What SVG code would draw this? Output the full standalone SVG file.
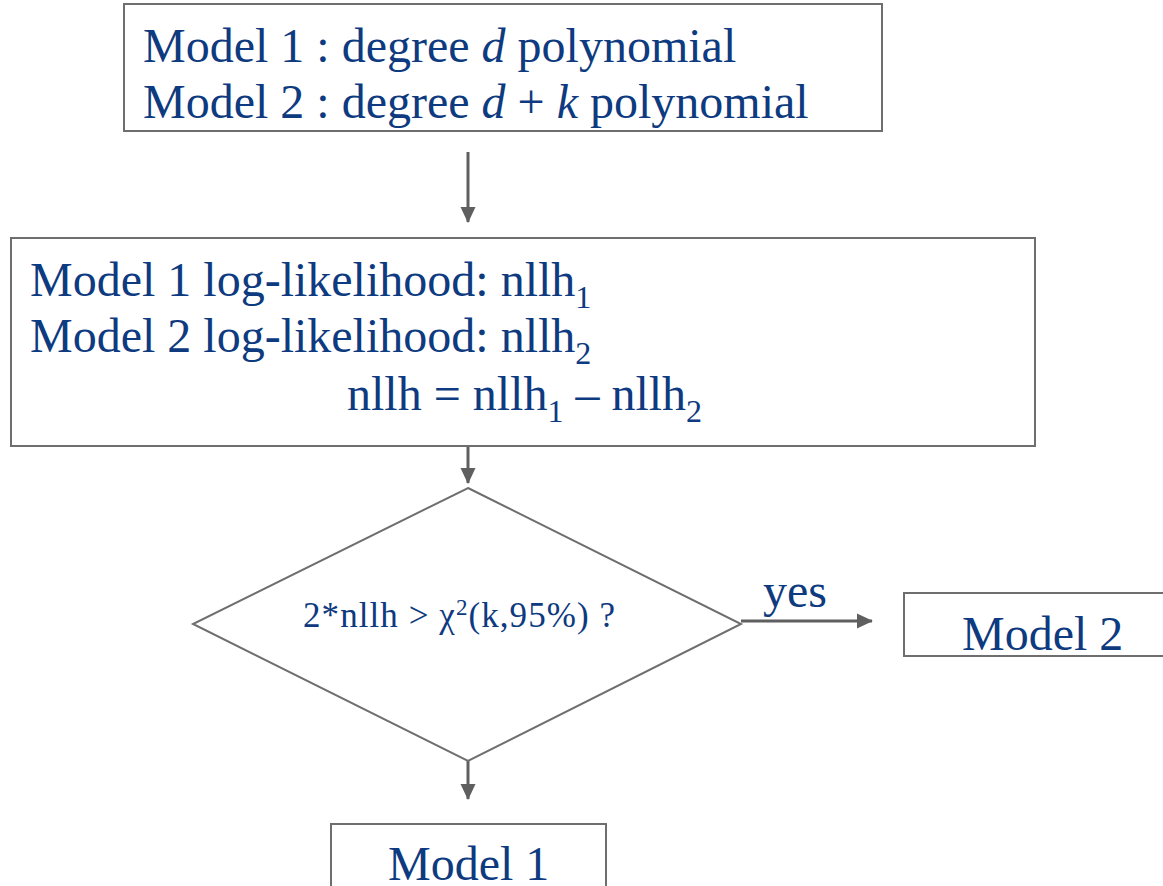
<svg xmlns="http://www.w3.org/2000/svg" width="1163" height="886" viewBox="0 0 1163 886">
<style>
.box{fill:#fff;stroke:#6e6e6e;stroke-width:2}
.t{font-family:"Liberation Serif","Times New Roman",serif;fill:#0e3a80;font-size:48px}
.sub{font-size:32px}
.conn{stroke:#5f5f5f;stroke-width:3;fill:none}
</style>
<defs>
<marker id="ah" markerWidth="6" markerHeight="6" refX="5" refY="3" orient="auto" markerUnits="strokeWidth">
<path d="M0,0.5 L5.3,3 L0,5.5 Z" fill="#5f5f5f"/>
</marker>
</defs>
<rect width="1163" height="886" fill="#fff"/>
<g id="connectors">
<line class="conn" x1="468" y1="152" x2="468" y2="222" marker-end="url(#ah)"/>
<line class="conn" x1="468" y1="446" x2="468" y2="483" marker-end="url(#ah)"/>
<line class="conn" x1="741" y1="621" x2="872" y2="621" marker-end="url(#ah)"/>
<line class="conn" x1="468" y1="761" x2="468" y2="799" marker-end="url(#ah)"/>
<text class="t" x="763" y="607">yes</text>
</g>
<g id="models">
<rect class="box" x="124" y="4" width="758" height="127"/>
<text class="t" x="143" y="62">Model 1 : degree <tspan font-style="italic">d</tspan> polynomial</text>
<text class="t" x="143" y="118">Model 2 : degree <tspan font-style="italic">d</tspan> + <tspan font-style="italic">k</tspan> polynomial</text>
</g>
<g id="loglik">
<rect class="box" x="11" y="238" width="1024" height="208"/>
<text class="t" x="30" y="296">Model 1 log-likelihood: nllh<tspan class="sub" dy="12">1</tspan></text>
<text class="t" x="30" y="352">Model 2 log-likelihood: nllh<tspan class="sub" dy="12">2</tspan></text>
<text class="t" x="347" y="410">nllh = nllh<tspan class="sub" dy="12">1</tspan><tspan dy="-12"> – nllh</tspan><tspan class="sub" dy="12">2</tspan></text>
</g>
<g id="decision">
<polygon class="box" points="468,488 741,624 468,761 193,624"/>
<text class="t" x="303" y="627" textLength="312" lengthAdjust="spacing" style="font-size:35px">2*nllh &gt; χ<tspan dy="-12" style="font-size:23px">2</tspan><tspan dy="12">(k,95%) ?</tspan></text>
</g>
<g id="model2">
<rect class="box" x="904" y="593" width="262" height="63"/>
<text class="t" x="962" y="650">Model 2</text>
</g>
<g id="model1">
<rect class="box" x="331" y="824" width="275" height="70"/>
<text class="t" x="388" y="880">Model 1</text>
</g>
</svg>
